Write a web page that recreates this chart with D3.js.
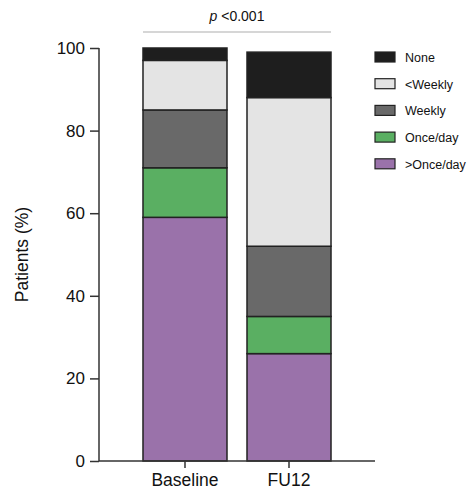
<!DOCTYPE html>
<head>
    <meta charset="utf-8">
    <script src="https://d3js.org/d3.v7.min.js"></script>
    <style>
      body { margin: 0; }
      text {
        font-family: "Liberation Sans", Arial, sans-serif;
        fill: #111;
      }
    </style>
</head>
<body>
    <script>
        // data
        var groups = ["Baseline", "FU12"]
        var categories = [">Once/day", "Once/day", "Weekly", "<Weekly", "None"]
        var baselineVals = [59, 12, 14, 12, 3]
        var fu12Vals = [26, 9, 17, 36, 11]
        var yTicks = [0, 20, 40, 60, 80, 100]
        var colors = ["#9a72aa", "#5aaf62", "#696969", "#e4e4e4", "#1e1e1e"]
        var pText = "<0.001"

        var rows = groups.map(function(g, i){
          var vals = i == 0 ? baselineVals : fu12Vals
          var r = {group: g}
          categories.forEach(function(c, j){ r[c] = vals[j] })
          return r
        })
        var stacked = d3.stack().keys(categories)(rows)

        var svg = d3.select("body").append("svg")
          .attr("width", 471)
          .attr("height", 492)

        var x = d3.scaleBand()
          .domain(groups)
          .range([99, 375])
          .paddingInner(0.1923)
          .paddingOuter(0.423)
        var y = d3.scaleLinear()
          .domain([0, 100])
          .range([461, 48])
        var color = d3.scaleOrdinal().domain(categories).range(colors)

        // bars
        svg.selectAll(".layer")
          .data(stacked)
          .enter().append("g")
          .attr("fill", function(d){ return color(d.key) })
          .selectAll("rect")
          .data(function(d){ return d })
          .enter().append("rect")
          .attr("x", function(d){ return x(d.data.group) })
          .attr("width", x.bandwidth())
          .attr("y", function(d){ return y(d[1]) })
          .attr("height", function(d){ return y(d[0]) - y(d[1]) })
          .attr("stroke", "#222")
          .attr("stroke-width", 1.5)

        // axes
        var yAxis = svg.append("g")
          .attr("transform", "translate(99,0)")
          .call(d3.axisLeft(y).tickValues(yTicks).tickSize(9).tickPadding(5))
        var xAxis = svg.append("g")
          .attr("transform", "translate(0,461)")
          .call(d3.axisBottom(x).tickSize(7).tickPadding(6))
        svg.selectAll(".domain").attr("stroke", "#333").attr("stroke-width", 1.5)
        svg.selectAll(".tick line").attr("stroke", "#333").attr("stroke-width", 1.5)
        yAxis.selectAll("text").attr("font-size", 17).attr("font-family", "Liberation Sans").attr("fill", "#111")
        xAxis.selectAll("text").attr("font-size", 17.5).attr("font-family", "Liberation Sans").attr("fill", "#111")
        yAxis.select(".domain").attr("d", "M0," + y(0) + "V" + y(100))
        xAxis.select(".domain").attr("d", "M99,0H375")

        svg.append("text")
          .attr("transform", "translate(28," + y(50) + ") rotate(-90)")
          .attr("text-anchor", "middle")
          .attr("font-size", 17.5)
          .text("Patients (%)")

        // significance
        svg.append("line")
          .attr("x1", x("Baseline")).attr("x2", x("FU12") + x.bandwidth())
          .attr("y1", 32).attr("y2", 32)
          .attr("stroke", "#c8c8c8").attr("stroke-width", 1.5)
        var pt = svg.append("text")
          .attr("x", (x("Baseline") + x("FU12") + x.bandwidth()) / 2)
          .attr("y", 21)
          .attr("text-anchor", "middle")
          .attr("font-size", 14)
        pt.append("tspan").attr("font-style", "italic").text("p")
        pt.append("tspan").text(" " + pText)

        // legend
        var legend = svg.selectAll(".leg")
          .data(categories.slice().reverse())
          .enter().append("g")
          .attr("transform", function(d, i){ return "translate(375," + (52 + i * 26.7) + ")" })
        legend.append("rect")
          .attr("width", 20).attr("height", 10)
          .attr("fill", function(d){ return color(d) })
          .attr("stroke", "#222").attr("stroke-width", 1.2)
        legend.append("text")
          .attr("x", 30).attr("y", 10)
          .attr("font-size", 12.5)
          .text(function(d){ return d })
    </script>
</body>
